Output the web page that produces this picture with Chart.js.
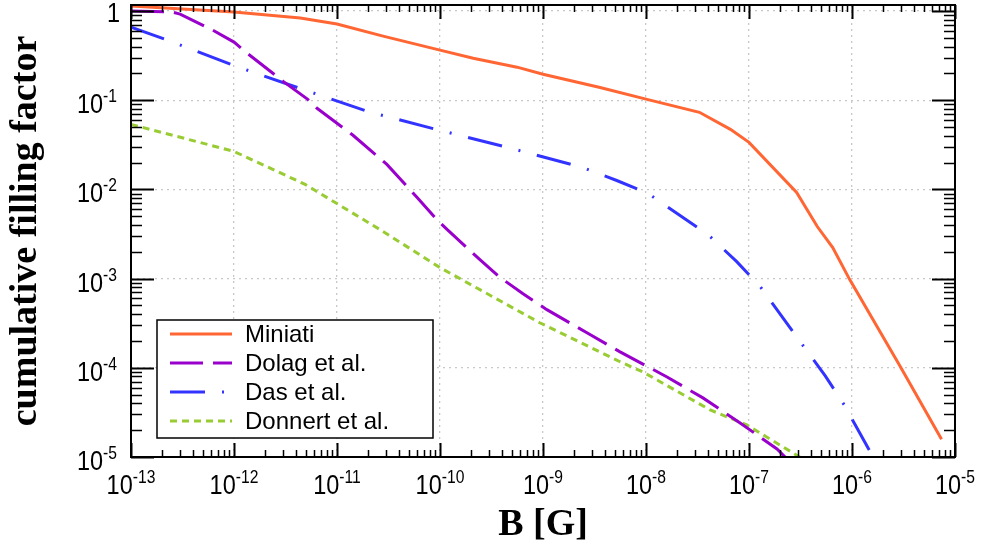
<!DOCTYPE html>
<html>
<head>
<meta charset="utf-8">
<title>cumulative filling factor</title>
<script src="https://cdn.jsdelivr.net/npm/chart.js@4/dist/chart.umd.min.js"></script>
<style>
  html, body { margin: 0; padding: 0; background: #fff; }
  canvas { display: block; }
</style>
</head>
<body>
<canvas id="fillChart" width="984" height="549"></canvas>
<script>
// B [G] and cumulative filling factor
const miniatiB = [1e-13, 1e-12, 4.4e-12, 1e-11, 2.8e-11, 1e-10, 2.1e-10, 5.6e-10, 1e-9, 3.5e-9, 1e-8, 3.3e-8, 6.6e-8, 1e-7, 2.9e-7, 4.6e-7, 6.5e-7, 9.5e-7, 2.95e-6, 7.4e-6];
const miniatiF = [1.14, 0.975, 0.834, 0.715, 0.524, 0.365, 0.296, 0.235, 0.196, 0.14, 0.103, 0.0733, 0.0472, 0.0337, 0.00925, 0.00384, 0.00223, 0.000975, 1.03e-4, 1.58e-5];

const dolagB = [1e-13, 2.5e-13, 3.0e-13, 6.2e-13, 1e-12, 1.38e-12, 3.0e-12, 5.2e-12, 6.4e-12, 1.43e-11, 3.05e-11, 6.0e-11, 9.3e-11, 1.17e-10, 2.44e-10, 3.83e-10, 6.4e-10, 1.09e-9, 2.67e-9, 5.6e-9, 1.6e-8, 3.57e-8, 8.2e-8, 1.87e-7, 2.24e-7, 2.75e-7];
const dolagF = [1.0, 0.975, 0.925, 0.612, 0.449, 0.329, 0.163, 0.1025, 0.0813, 0.0405, 0.0191, 0.00813, 0.0046, 0.00356, 0.00163, 0.00103, 6.78e-4, 4.49e-4, 2.47e-4, 1.51e-4, 7.9e-5, 4.6e-5, 2.41e-5, 1.23e-5, 1.0e-5, 8.1e-6];

const dasB = [1e-13, 2.14e-13, 9.8e-13, 4.6e-12, 2.1e-11, 1e-10, 4.9e-10, 2.4e-9, 5.2e-9, 1.05e-8, 2.14e-8, 4.0e-8, 7.6e-8, 1.29e-7, 2.67e-7, 5.5e-7, 8.4e-7, 1.6e-6, 1.78e-6];
const dasF = [0.661, 0.484, 0.247, 0.133, 0.0733, 0.046, 0.0289, 0.0177, 0.0126, 0.009, 0.0051, 0.00312, 0.00155, 8.1e-4, 2.54e-4, 8.1e-5, 3.84e-5, 1.0e-5, 8.5e-6];

const donnertB = [1e-13, 1e-12, 4.9e-12, 2.6e-11, 1e-10, 9.3e-10, 5.6e-9, 9.3e-9, 4.2e-8, 9.5e-8, 3.1e-7, 3.5e-7];
const donnertF = [0.0537, 0.0267, 0.0114, 0.00356, 0.00133, 3.2e-4, 1.17e-4, 9.0e-5, 3.37e-5, 2.29e-5, 1.0e-5, 8.8e-6];

const seriesNames = ["Miniati", "Dolag et al.", "Das et al.", "Donnert et al."];

// axis ranges (decade exponents)
const xDecades = [-13, -12, -11, -10, -9, -8, -7, -6, -5];
const yDecades = [-5, -4, -3, -2, -1, 0];
const yTop = 1.17;

function pairs(xs, ys) {
    return xs.map((v, i) => ({ x: v, y: ys[i] }));
}

function line(label, xs, ys, color, dash) {
    return {
        label: label,
        data: pairs(xs, ys),
        borderColor: color,
        backgroundColor: color,
        borderWidth: 3,
        borderDash: dash,
        borderCapStyle: "butt",
        pointRadius: 0,
        tension: 0,
        fill: false
    };
}

// tick labels are a narrow sans, squeeze horizontally
const tickFont = "27px 'Liberation Sans', Arial, sans-serif";
const supFont = "18px 'Liberation Sans', Arial, sans-serif";
const squeeze = 0.87;

function drawPow(ctx, exp, left, base) {
    // "10" with a raised exponent, left edge at 'left'
    ctx.save();
    ctx.translate(left, 0);
    ctx.scale(squeeze, 1);
    ctx.textAlign = "left";
    ctx.font = tickFont;
    const w1 = ctx.measureText("10").width;
    ctx.fillText("10", 0, base);
    ctx.font = supFont;
    ctx.fillText(exp, w1, base - 11);
    ctx.restore();
}

function powWidth(ctx, exp) {
    ctx.font = tickFont;
    const w1 = ctx.measureText("10").width;
    ctx.font = supFont;
    const w2 = ctx.measureText(exp).width;
    return (w1 + w2) * squeeze;
}

// inward ticks, frame and 10^n labels
const axisDecor = {
    id: "axisDecor",
    afterDraw(chart) {
        const { ctx, chartArea: a, scales: { x, y } } = chart;
        ctx.save();
        ctx.strokeStyle = "#000";

        // x ticks, top and bottom
        xDecades.forEach(k => {
            for (let m = 1; m <= 9; m++) {
                if (k === -5 && m > 1) break;
                const px = Math.round(x.getPixelForValue(m * Math.pow(10, k))) + 0.5;
                const len = m === 1 ? 14 : 7;
                ctx.lineWidth = m === 1 ? 2 : 1.5;
                ctx.beginPath();
                ctx.moveTo(px, a.bottom); ctx.lineTo(px, a.bottom - len);
                ctx.moveTo(px, a.top); ctx.lineTo(px, a.top + len);
                ctx.stroke();
            }
        });

        // y ticks, left and right
        yDecades.forEach(k => {
            for (let m = 1; m <= 9; m++) {
                const v = m * Math.pow(10, k);
                if (v > yTop) break;
                const py = Math.round(y.getPixelForValue(v)) + 0.5;
                const len = m === 1 ? 23 : 11;
                ctx.lineWidth = m === 1 ? 2 : 1.5;
                ctx.beginPath();
                ctx.moveTo(a.left, py); ctx.lineTo(a.left + len, py);
                ctx.moveTo(a.right, py); ctx.lineTo(a.right - len, py);
                ctx.stroke();
            }
        });

        // frame
        ctx.lineWidth = 2;
        ctx.strokeRect(a.left, a.top, a.right - a.left, a.bottom - a.top);

        // labels
        ctx.fillStyle = "#000";
        ctx.textBaseline = "alphabetic";
        xDecades.forEach(k => {
            const px = x.getPixelForValue(Math.pow(10, k));
            const exp = String(k);
            drawPow(ctx, exp, px - powWidth(ctx, exp) / 2, 494);
        });
        yDecades.forEach(k => {
            const py = y.getPixelForValue(Math.pow(10, k));
            if (k === 0) {
                ctx.save();
                ctx.textAlign = "right";
                ctx.font = tickFont;
                ctx.translate(120, 0);
                ctx.scale(squeeze, 1);
                ctx.fillText("1", 0, py + 11);
                ctx.restore();
                return;
            }
            const exp = String(k);
            drawPow(ctx, exp, 117 - powWidth(ctx, exp), py + 13);
        });
        ctx.restore();
    }
};

// boxed legend inside the plot, lower left
const boxLegend = {
    id: "boxLegend",
    afterDraw(chart) {
        const ctx = chart.ctx;
        const box = { x: 157, y: 320, w: 276, h: 118 };
        ctx.save();
        ctx.fillStyle = "#fff";
        ctx.fillRect(box.x, box.y, box.w, box.h);
        ctx.strokeStyle = "#000";
        ctx.lineWidth = 1.5;
        ctx.strokeRect(box.x, box.y, box.w, box.h);
        ctx.font = "24px 'Liberation Sans', Arial, sans-serif";
        ctx.textBaseline = "middle";
        ctx.textAlign = "left";
        chart.data.datasets.forEach((ds, i) => {
            const cy = 334 + i * 29;
            ctx.strokeStyle = ds.borderColor;
            ctx.lineWidth = 3;
            ctx.lineCap = "butt";
            ctx.setLineDash(ds.borderDash || []);
            ctx.beginPath();
            ctx.moveTo(170, cy);
            ctx.lineTo(232, cy);
            ctx.stroke();
            ctx.setLineDash([]);
            ctx.fillStyle = "#000";
            ctx.fillText(ds.label, 245, cy + 1);
        });
        ctx.restore();
    }
};

const titleFont = { family: "'Liberation Serif', 'Times New Roman', serif", size: 38, weight: "bold", lineHeight: 1.2 };

const ctx = document.getElementById("fillChart").getContext("2d");
const fillChart = new Chart(ctx, {
    type: "line",
    data: {
        datasets: [
            line(seriesNames[0], miniatiB, miniatiF, "#ff6633", []),
            line(seriesNames[1], dolagB, dolagF, "#9900cc", [33, 10]),
            line(seriesNames[2], dasB, dasF, "#3333ff", [35, 17, 2, 17]),
            line(seriesNames[3], donnertB, donnertF, "#99cc33", [7, 5])
        ]
    },
    options: {
        responsive: false,
        animation: false,
        devicePixelRatio: 1,
        layout: { padding: { top: 5, right: 29, left: 0, bottom: 0 } },
        plugins: {
            legend: { display: false },
            tooltip: { enabled: false }
        },
        scales: {
            x: {
                type: "logarithmic",
                min: 1e-13,
                max: 1e-5,
                afterBuildTicks: s => { s.ticks = xDecades.map(k => ({ value: Math.pow(10, k) })); },
                afterFit: s => { s.height = 92; },
                ticks: { display: false },
                grid: { color: "#c8c8c8", lineWidth: 1.3, drawTicks: false },
                border: { display: false, dash: [2, 4] },
                title: { display: true, text: "B [G]", color: "#000", font: titleFont, padding: { top: 0, bottom: 1 } }
            },
            y: {
                type: "logarithmic",
                min: 1e-5,
                max: yTop,
                afterBuildTicks: s => { s.ticks = yDecades.map(k => ({ value: Math.pow(10, k) })); },
                afterFit: s => { s.width = 131; },
                ticks: { display: false },
                grid: { color: "#c8c8c8", lineWidth: 1.3, drawTicks: false },
                border: { display: false, dash: [2, 4] },
                title: { display: true, text: "cumulative filling factor", color: "#000", font: titleFont, padding: { top: 3, bottom: 0 } }
            }
        }
    },
    plugins: [axisDecor, boxLegend]
});
</script>
</body>
</html>
